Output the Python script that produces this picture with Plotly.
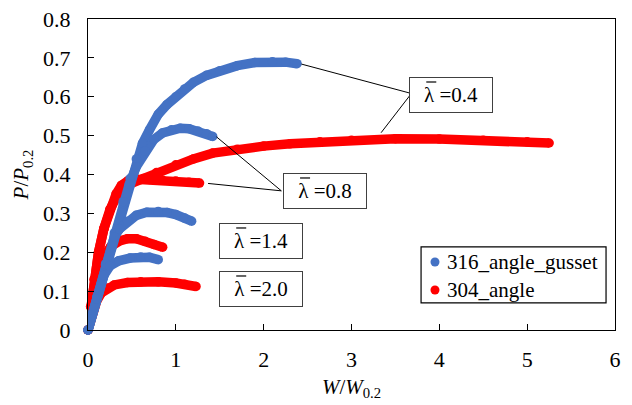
import plotly.graph_objects as go

# ---- data (W/W0.2, P/P0.2) ----
# 316_angle_gusset (blue)
b04_x = [0, 0.1, 0.2, 0.3, 0.4, 0.48, 0.55, 0.62, 0.7, 0.8, 0.9, 1.0, 1.1, 1.2, 1.35, 1.5, 1.7, 1.9, 2.1, 2.25, 2.38]
b04_y = [0, 0.08, 0.165, 0.245, 0.325, 0.39, 0.44, 0.48, 0.515, 0.555, 0.58, 0.60, 0.62, 0.637, 0.655, 0.667, 0.68, 0.688, 0.69, 0.689, 0.685]
b08_x = [0, 0.1, 0.2, 0.3, 0.4, 0.47, 0.55, 0.65, 0.75, 0.85, 0.95, 1.05, 1.15, 1.25, 1.35, 1.42]
b08_y = [0, 0.082, 0.168, 0.25, 0.33, 0.375, 0.42, 0.46, 0.49, 0.507, 0.515, 0.519, 0.518, 0.512, 0.505, 0.498]
b14_x = [0, 0.1, 0.2, 0.3, 0.36, 0.45, 0.55, 0.67, 0.8, 0.9, 1.0, 1.1, 1.18]
b14_y = [0, 0.085, 0.17, 0.24, 0.26, 0.28, 0.295, 0.303, 0.305, 0.302, 0.297, 0.288, 0.28]
b20_x = [0, 0.1, 0.18, 0.25, 0.35, 0.48, 0.6, 0.7, 0.8]
b20_y = [0, 0.08, 0.14, 0.165, 0.178, 0.185, 0.188, 0.187, 0.181]

# 304_angle (red)
r04_x = [0, 0.03, 0.07, 0.12, 0.18, 0.25, 0.33, 0.4, 0.5, 0.63, 0.78, 1.0, 1.2, 1.42, 1.7, 2.0, 2.3, 2.64, 3.0, 3.5, 4.0, 4.5, 5.0, 5.25]
r04_y = [0, 0.06, 0.13, 0.2, 0.26, 0.31, 0.345, 0.365, 0.378, 0.39, 0.405, 0.425, 0.44, 0.455, 0.465, 0.473, 0.479, 0.484, 0.488, 0.492, 0.491, 0.488, 0.484, 0.481]
r08_x = [0, 0.03, 0.07, 0.12, 0.18, 0.25, 0.32, 0.38, 0.45, 0.55, 0.7, 0.85, 1.0, 1.15, 1.27]
r08_y = [0, 0.06, 0.13, 0.2, 0.26, 0.31, 0.35, 0.372, 0.383, 0.388, 0.387, 0.385, 0.383, 0.38, 0.378]
r14_x = [0, 0.04, 0.1, 0.18, 0.26, 0.36, 0.45, 0.55, 0.65, 0.75, 0.85]
r14_y = [0, 0.07, 0.14, 0.19, 0.215, 0.229, 0.235, 0.235, 0.228, 0.22, 0.213]
r20_x = [0, 0.05, 0.1, 0.15, 0.22, 0.3, 0.45, 0.6, 0.8, 1.0, 1.1, 1.23]
r20_y = [0, 0.04, 0.075, 0.095, 0.108, 0.116, 0.122, 0.124, 0.124, 0.121, 0.118, 0.112]

series_names = ["316_angle_gusset", "304_angle"]
series_colors = ["#4472C4", "#FF0000"]

# label boxes: text, centre position (data units)
label_texts = ["λ =0.4", "λ =0.8", "λ =1.4", "λ =2.0"]
label_x = [4.136, 2.699, 1.972, 1.972]
label_y = [0.6045, 0.3576, 0.229, 0.1055]

# leader lines: (x0, y0, x1, y1)
leaders = [
    (3.66, 0.6097, 2.43, 0.684),
    (3.66, 0.602, 3.337, 0.5075),
    (2.201, 0.358, 1.462, 0.497),
    (2.201, 0.358, 1.367, 0.377),
]

FONT = "Times New Roman, Liberation Serif, Times, serif"


def join(curves):
    xs, ys = [], []
    for cx, cy in curves:
        xs += list(cx) + [None]
        ys += list(cy) + [None]
    return xs, ys


fig = go.Figure()

red_x, red_y = join([(r04_x, r04_y), (r08_x, r08_y), (r14_x, r14_y), (r20_x, r20_y)])
blue_x, blue_y = join([(b04_x, b04_y), (b08_x, b08_y), (b14_x, b14_y), (b20_x, b20_y)])

SZ = 9.5
fig.add_trace(go.Scatter(x=red_x, y=red_y, mode="lines+markers", name=series_names[1],
                         line=dict(color=series_colors[1], width=SZ),
                         marker=dict(color=series_colors[1], size=SZ),
                         showlegend=False, connectgaps=False, cliponaxis=False))
fig.add_trace(go.Scatter(x=blue_x, y=blue_y, mode="lines+markers", name=series_names[0],
                         line=dict(color=series_colors[0], width=SZ),
                         marker=dict(color=series_colors[0], size=SZ),
                         showlegend=False, connectgaps=False, cliponaxis=False))

for (x0, y0, x1, y1) in leaders:
    fig.add_shape(type="line", xref="x", yref="y", x0=x0, y0=y0, x1=x1, y1=y1,
                  line=dict(color="black", width=1))

for t, x, y in zip(label_texts, label_x, label_y):
    fig.add_annotation(x=x, y=y, xref="x", yref="y", text=t, showarrow=False,
                       font=dict(family=FONT, size=21, color="black"),
                       bordercolor="#404040", borderwidth=1, borderpad=1,
                       bgcolor="rgba(0,0,0,0)", width=80, height=32)
    # overbar above the lambda
    fig.add_shape(type="line", xref="x", yref="y", xsizemode="pixel", ysizemode="pixel",
                  xanchor=x, yanchor=y, x0=-25, x1=-15, y0=13, y1=13,
                  line=dict(color="black", width=1.2))

# ---- custom legend (layout, paper coordinates) ----
leg_x0, leg_x1, leg_y0, leg_y1 = 0.632, 0.983, 0.087, 0.267
leg_dot_x = 0.6584
leg_text_x = 0.678
leg_rows_y = [0.2186, 0.1286]
fig.add_shape(type="rect", xref="paper", yref="paper", x0=leg_x0, x1=leg_x1,
              y0=leg_y0, y1=leg_y1, line=dict(color="black", width=1.2),
              fillcolor="white", layer="above")
for name, col, ry in zip(series_names, series_colors, leg_rows_y):
    fig.add_shape(type="circle", xref="paper", yref="paper", xsizemode="pixel",
                  ysizemode="pixel", xanchor=leg_dot_x, yanchor=ry,
                  x0=-4.5, x1=4.5, y0=-4.5, y1=4.5,
                  fillcolor=col, line=dict(color=col, width=0), layer="above")
    fig.add_annotation(x=leg_text_x, y=ry, xref="paper", yref="paper", text=name,
                       showarrow=False, xanchor="left", yanchor="middle",
                       font=dict(family=FONT, size=21, color="black"))

axis_common = dict(showgrid=False, zeroline=False, showline=True, linecolor="black",
                   linewidth=1.3, mirror=True, ticks="inside", ticklen=6,
                   tickcolor="black", tickwidth=1.3, automargin=False,
                   tickfont=dict(family=FONT, size=22, color="black"))

fig.update_xaxes(range=[0, 6], dtick=1, tick0=0, ticklabelstandoff=9,
                 title=dict(text="<i>W</i>/<i>W</i><sub>0.2</sub>",
                            font=dict(family=FONT, size=21, color="black"), standoff=8),
                 **axis_common)
fig.update_yaxes(range=[0, 0.8], dtick=0.1, tick0=0, ticklabelstandoff=12,
                 title=dict(text="<i>P</i>/<i>P</i><sub>0.2</sub>",
                            font=dict(family=FONT, size=21, color="black"), standoff=8),
                 **axis_common)

fig.update_layout(
    width=632, height=405,
    margin=dict(l=88, r=17, t=19, b=75),
    paper_bgcolor="white", plot_bgcolor="white",
    font=dict(family=FONT, size=21, color="black"),
    showlegend=False,
)

fig.write_html("out.html", config={"displayModeBar": False},
               post_script="document.body.style.margin='0';")
